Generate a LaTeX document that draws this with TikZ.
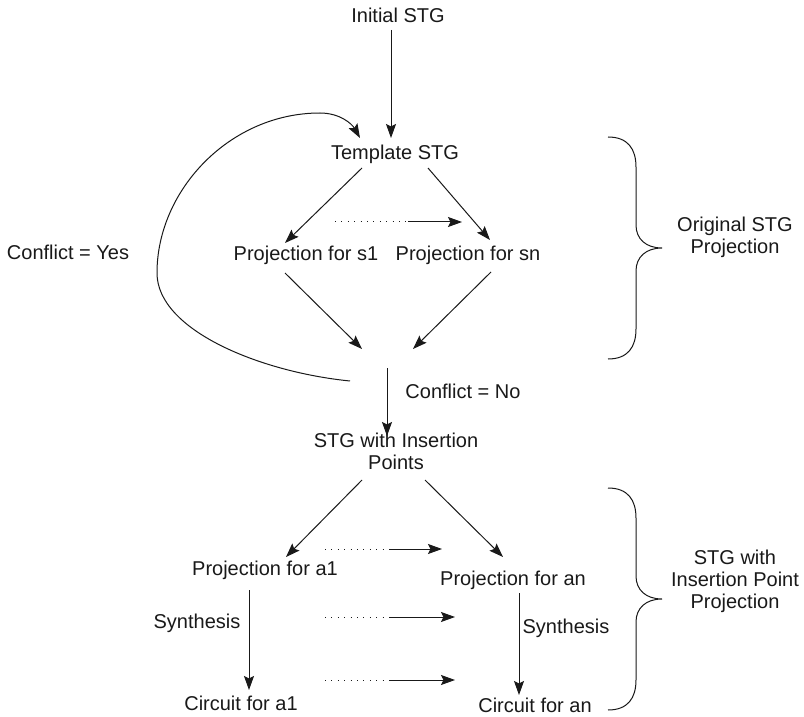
\documentclass[tikz,border=0pt]{standalone}
\usepackage{fontspec}
\setmainfont{Liberation Sans}
\usetikzlibrary{arrows.meta,positioning,calc}

\tikzset{
  lbl/.style={inner sep=2pt, align=center, text height=7.2pt, text depth=2.1pt,
    font=\fontsize{10}{11}\selectfont, text=black!90},
  arr/.style={draw=black!90, line width=0.5pt, -{Stealth[length=7pt,width=5pt,inset=1.2pt]}},
  dotline/.style={draw=black!90, line width=0.5pt, dash pattern=on 0.5pt off 2.7pt},
  curly/.style={draw=black!90, line width=0.5pt}
}

\begin{document}
\begin{tikzpicture}[x=0.5pt,y=-0.5pt]
  \useasboundingbox (0,0) rectangle (804,717);
  % Upper part: template and per-signal projections
  \node[lbl] (init) at (398,17) {Initial STG};
  \node[lbl] (tmpl) at (395,154) {Template STG};
  \node[lbl] (s1) at (306,255) {Projection for s1};
  \node[lbl] (sn) at (468,255) {Projection for sn};
  \node[lbl] (yes) at (68,254) {Conflict = Yes};
  \coordinate (merge) at (388,358);
  \node[lbl] (no) at (463,393) {Conflict = No};
  % Lower part: insertion points and synthesis
  \node[lbl] (ins) at (396,464) {STG with Insertion\\Points};
  \node[lbl] (a1) at (265,570) {Projection for a1};
  \node[lbl] (an) at (513,580) {Projection for an};
  \node[lbl] (syn1) at (197,623) {Synthesis};
  \node[lbl] (synn) at (566,628) {Synthesis};
  \node[lbl] (ca1) at (241,705) {Circuit for a1};
  \node[lbl] (can) at (535,707) {Circuit for an};
  % Brace labels
  \node[lbl] (orig) at (735,248) {Original STG\\Projection};
  \node[lbl] (insp) at (735,603) {STG with\\Insertion Point\\Projection};

  % Edges
  \draw[arr] ($(init)+(-7,13)$) -- ($(tmpl)+(-4,-16)$);
  \draw[arr] ($(tmpl)+(-33,14)$) -- ($(s1)+(-21,-12)$);
  \draw[arr] ($(tmpl)+(33,14)$) -- ($(sn)+(22,-15)$);
  \draw[arr] ($(s1)+(-21,18)$) -- ($(merge)+(-26,-9)$);
  \draw[arr] ($(sn)+(23,17)$) -- ($(merge)+(25,-9)$);
  \draw[arr] ($(merge)+(-1,10)$) -- ($(ins)+(-9,-28)$);
  \draw[arr] ($(ins)+(-34,16)$) -- ($(a1)+(21,-13)$);
  \draw[arr] ($(ins)+(29,16)$) -- ($(an)+(-10,-23)$);
  \draw[arr] ($(a1)+(-16,20)$) -- ($(ca1)+(8,-15)$);
  \draw[arr] ($(an)+(6,13)$) -- ($(can)+(-16,-12)$);
  % Feedback loop when a conflict is found
  \draw[arr] ($(merge)+(-38,23)$) .. controls (260,372) and (157,330) .. (157,273)
    .. controls (157,190) and (230,113) .. (320,113)
    .. controls (340,113) and (352,124) .. ($(tmpl)+(-35,-16)$);

  % Dotted "and so on" arrows
  \coordinate (d0) at (335,222);
  \coordinate (e0) at (408,222);
  \coordinate (f0) at (462,222);
  \draw[dotline] (d0) -- (e0);
  \draw[arr] (e0) -- (f0);
  \foreach \y/\tip [count=\i] in {549/442,617/455,680/455} {
    \coordinate (d\i) at (325,\y);
    \coordinate (e\i) at (390,\y);
    \coordinate (f\i) at (\tip,\y);
    \draw[dotline] (d\i) -- (e\i);
    \draw[arr] (e\i) -- (f\i);
  }

  % Curly braces on the right
  \foreach \t in {137,488}
    \draw[curly] (608,\t) .. controls (628,\t) and (636,{\t+12}) .. (636,{\t+30})
      -- (636,{\t+88}) .. controls (636,{\t+102}) and (646,{\t+111}) .. (662,{\t+111})
      .. controls (646,{\t+111}) and (636,{\t+120}) .. (636,{\t+134})
      -- (636,{\t+192}) .. controls (636,{\t+210}) and (628,{\t+222}) .. (608,{\t+222});
\end{tikzpicture}
\end{document}
